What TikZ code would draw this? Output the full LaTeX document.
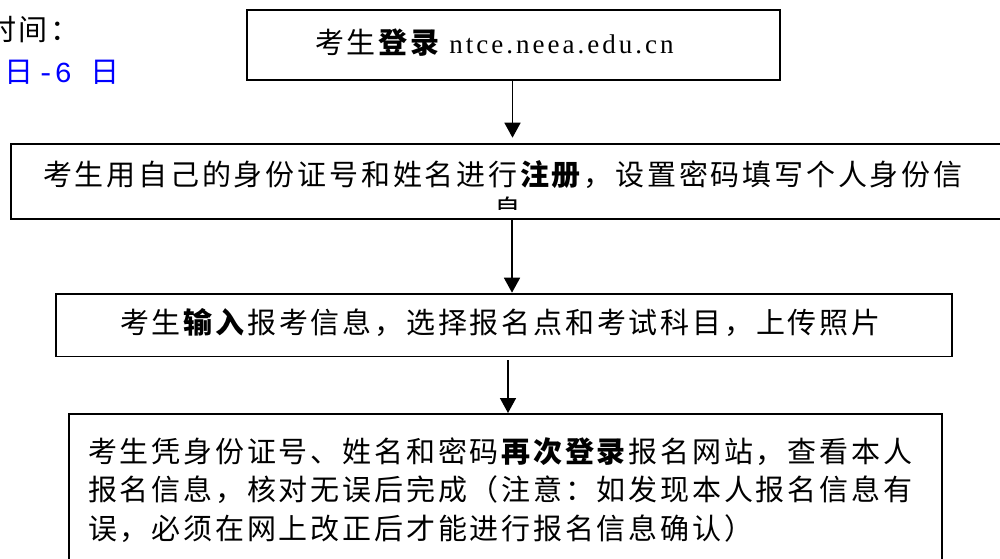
\documentclass[tikz,border=0pt]{standalone}
\usepackage{fontspec}
\setmainfont{Noto Sans CJK SC}
\newfontfamily\monofnt{Liberation Mono}
\newfontfamily\urlfnt{Liberation Serif}
\usetikzlibrary{arrows.meta}
\newdimen\chk \chk=2.8pt
\def\myspcloop#1{\ifx\relax#1\else#1\kern\chk\expandafter\myspcloop\fi}
\newcommand\myspc[1]{\myspcloop#1\relax}
\tikzset{
  box/.style={draw, line width=1.8pt, fill=white, inner sep=0pt, anchor=north west},
  txt/.style={inner sep=0pt, anchor=west, font=\fontsize{29}{38.5}\selectfont},
  arr/.style={line width=1.6pt, -{Triangle[length=15pt,width=16pt]}}
}
\begin{document}
\begin{tikzpicture}[x=1pt,y=-1pt]
\useasboundingbox (0,0) rectangle (1000,558);
% top-left heading fragments
\node[txt] (h1) at (-13,30) {\myspc{时间：}};
\node[txt, text=blue] (h2) at (4,72) {日\kern4pt{\monofnt\fontsize{29}{30}\selectfont -6}\kern18pt 日};
% boxes
\node[box, minimum width=533pt, minimum height=69.7pt] (b1) at (246,9.3) {};
\node[box, minimum width=1000pt, minimum height=75.3pt] (b2) at (10,142.7) {};
\node[box, minimum width=896pt, minimum height=62.8pt] (b3) at (55,292.7) {};
\node[box, minimum width=872.7pt, minimum height=160pt] (b4) at (68,413) {};
% texts
\node[txt] (t1) at (315,43) {\myspc{考生}\textbf{\myspc{登录}}\kern7pt{\urlfnt\fontsize{27}{30}\selectfont\chk=3.0pt\myspc{ntce.neea.edu.cn}}};
\node[txt] (t2) at (43,175) {\myspc{考生用自己的身份证号和姓名进行}\textbf{\myspc{注册}}\myspc{，设置密码填写个人身份信}};
\begin{scope}
\clip (11,143) rectangle (1000,209);
\node[txt, anchor=center] (t2b) at (508,210) {息};
\end{scope}
\node[txt] (t3) at (120,323) {\myspc{考生}\textbf{\myspc{输入}}\myspc{报考信息，选择报名点和考试科目，上传照片}};
\node[txt, align=left, anchor=north west] (t4) at (88,437) {\myspc{考生凭身份证号、姓名和密码}\textbf{\myspc{再次登录}}\myspc{报名网站，查看本人}\\
\myspc{报名信息，核对无误后完成（注意：如发现本人报名信息有}\\
\myspc{误，必须在网上改正后才能进行报名信息确认）}};
% connectors
\draw[arr, shorten >=5pt] (b1.south -| 512.5,0) -- (512.5,0 |- b2.north);
\draw[arr] (512,0 |- b2.south) -- (512,0 |- b3.north);
\draw[arr, shorten <=3pt] (508,0 |- b3.south) -- (508,0 |- b4.north);
\end{tikzpicture}
\end{document}
